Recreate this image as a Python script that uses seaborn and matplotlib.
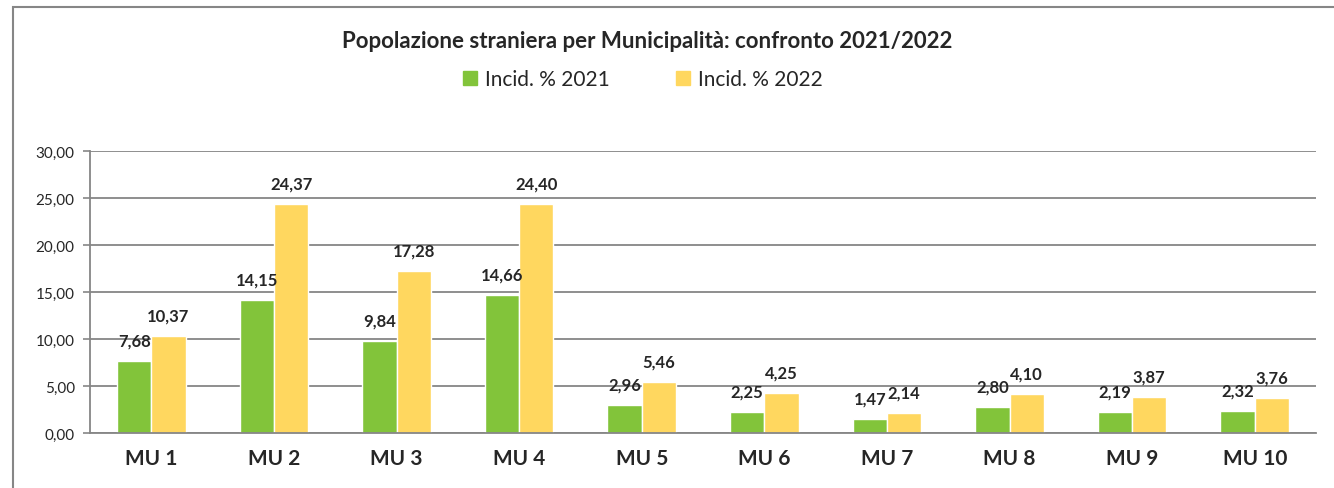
import numpy as np
import pandas as pd
import matplotlib
matplotlib.use('Agg')
import matplotlib.pyplot as plt
import seaborn as sns
from matplotlib.patches import Rectangle

municipalita = ['MU 1', 'MU 2', 'MU 3', 'MU 4', 'MU 5', 'MU 6', 'MU 7', 'MU 8', 'MU 9', 'MU 10']
incid_2021 = [7.68, 14.15, 9.84, 14.66, 2.96, 2.25, 1.47, 2.80, 2.19, 2.32]
incid_2022 = [10.37, 24.37, 17.28, 24.40, 5.46, 4.25, 2.14, 4.10, 3.87, 3.76]
serie = ['Incid. % 2021', 'Incid. % 2022']

df = pd.DataFrame({
    'mu': municipalita * 2,
    'valore': incid_2021 + incid_2022,
    'serie': [serie[0]] * len(municipalita) + [serie[1]] * len(municipalita),
})

sns.set_style('white')
plt.rcParams['font.family'] = ['Lato', 'DejaVu Sans']

grigio = '#868686'
fig = plt.figure(figsize=(13.34, 4.89), dpi=100)
ax = fig.add_axes([0.0675, 0.1125, 0.919, 0.5765])

sns.barplot(data=df, x='mu', y='valore', hue='serie', order=municipalita,
            palette=['#82C43A', '#FFD75F'], width=0.56, gap=0, saturation=1,
            ax=ax, legend=True)

for cont in ax.containers:
    labs = [f'{b.get_height():.2f}'.replace('.', ',') for b in cont]
    ax.bar_label(cont, labels=labs, padding=9, fontsize=12, fontweight='bold')

ax.set_ylim(0, 30)
ax.set_xlim(-0.5, len(municipalita) - 0.5)
ax.set_yticks(np.arange(0, 31, 5))
ax.set_yticklabels([f'{v:.2f}'.replace('.', ',') for v in np.arange(0, 31, 5)], fontsize=11)
ax.set_xticks(np.arange(-0.5, len(municipalita), 1), minor=True)
ax.tick_params(axis='x', which='major', length=0, labelsize=15, pad=11)
ax.tick_params(axis='x', which='minor', length=5, color=grigio, width=1.2)
ax.tick_params(axis='y', length=5, color=grigio, width=1.2, left=True, pad=6)
for t in ax.get_xticklabels():
    t.set_fontweight('bold')
ax.set_xlabel('')
ax.set_ylabel('')
ax.yaxis.grid(True, color=grigio, linewidth=1.3)
ax.set_axisbelow(True)
for s in ['top', 'right']:
    ax.spines[s].set_visible(False)
for s in ['left', 'bottom']:
    ax.spines[s].set_color(grigio)
    ax.spines[s].set_linewidth(1.3)

ax.legend_.remove()
handles = [Rectangle((0, 0), 1, 1, color=c) for c in ['#82C43A', '#FFD75F']]
fig.legend(handles, serie, loc='center', bbox_to_anchor=(0.482, 0.836), ncol=2,
           frameon=False, fontsize=15, handlelength=0.65, handleheight=0.65,
           handletextpad=0.4, columnspacing=3.2)

fig.text(0.485, 0.916, 'Popolazione straniera per Municipalità: confronto 2021/2022',
         ha='center', va='center', fontsize=16, fontweight='bold')

fig.patches.append(Rectangle((0.00975, -0.1), 1.1, 1.084, transform=fig.transFigure,
                             fill=False, edgecolor=grigio, linewidth=1.5))

fig.savefig('out.png', dpi=100)
